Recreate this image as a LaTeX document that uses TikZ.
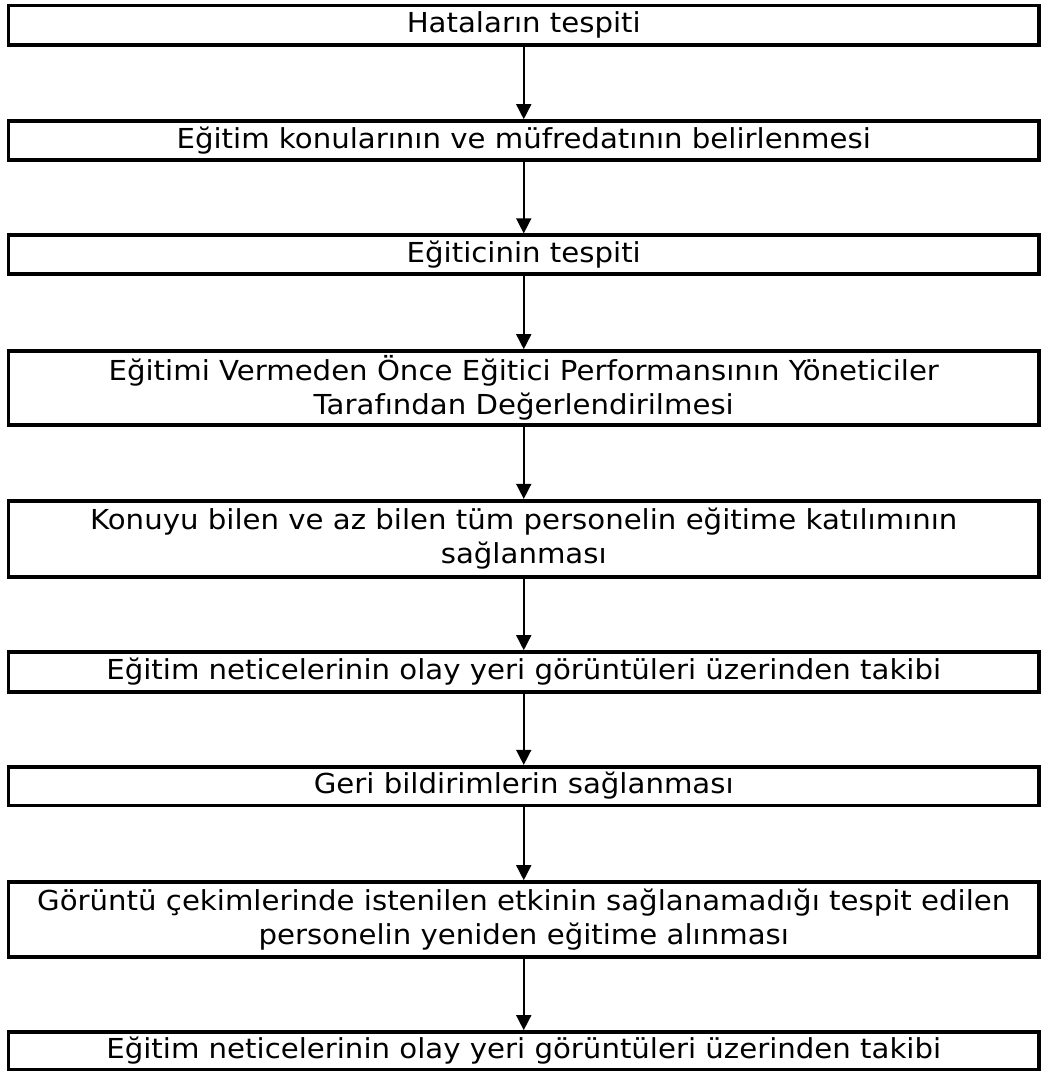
\documentclass[tikz,border=0pt]{standalone}
\usepackage{fontspec}
\setmainfont{DejaVu Sans}[FakeStretch=1.062]
\usetikzlibrary{arrows.meta}
\begin{document}
\begin{tikzpicture}[x=1pt,y=1pt,
  stepbox/.style={draw=black, line width=3.6pt, fill=white, inner sep=0pt,
    minimum width=1030.5pt, align=center,
    font=\fontsize{27.5}{34.5}\selectfont},
  flow/.style={line width=1.5pt, -{Triangle[width=15pt,length=15pt]}}]
\useasboundingbox (0,0) rectangle (1044,-1071);
\fill[white] (0,0) rectangle (1044,-1071);
\node[stepbox, minimum height=39.5pt] (b1) at (523.75,-25.25) {Hataların tespiti};
\node[stepbox, minimum height=39pt] (b2) at (523.75,-140.5) {Eğitim konularının ve müfredatının belirlenmesi};
\node[stepbox, minimum height=39pt] (b3) at (523.75,-254.7) {Eğiticinin tespiti};
\node[stepbox, minimum height=74pt] (b4) at (523.75,-388) {Eğitimi Vermeden Önce Eğitici Performansının Yöneticiler\\Tarafından Değerlendirilmesi};
\node[stepbox, minimum height=76pt] (b5) at (523.75,-538.7) {Konuyu bilen ve az bilen tüm personelin eğitime katılımının\\sağlanması};
\node[stepbox, minimum height=40pt] (b6) at (523.75,-672) {Eğitim neticelerinin olay yeri görüntüleri üzerinden takibi};
\node[stepbox, minimum height=38.6pt] (b7) at (523.75,-786) {Geri bildirimlerin sağlanması};
\node[stepbox, minimum height=75pt] (b8) at (523.75,-919.5) {Görüntü çekimlerinde istenilen etkinin sağlanamadığı tespit edilen\\personelin yeniden eğitime alınması};
\node[stepbox, minimum height=37.5pt] (b9) at (523.75,-1050.7) {Eğitim neticelerinin olay yeri görüntüleri üzerinden takibi};
\foreach \a/\b in {b1/b2,b2/b3,b3/b4,b4/b5,b5/b6,b6/b7,b7/b8,b8/b9}
  \draw[flow] (\a.south) -- (\b.north);
\end{tikzpicture}
\end{document}
